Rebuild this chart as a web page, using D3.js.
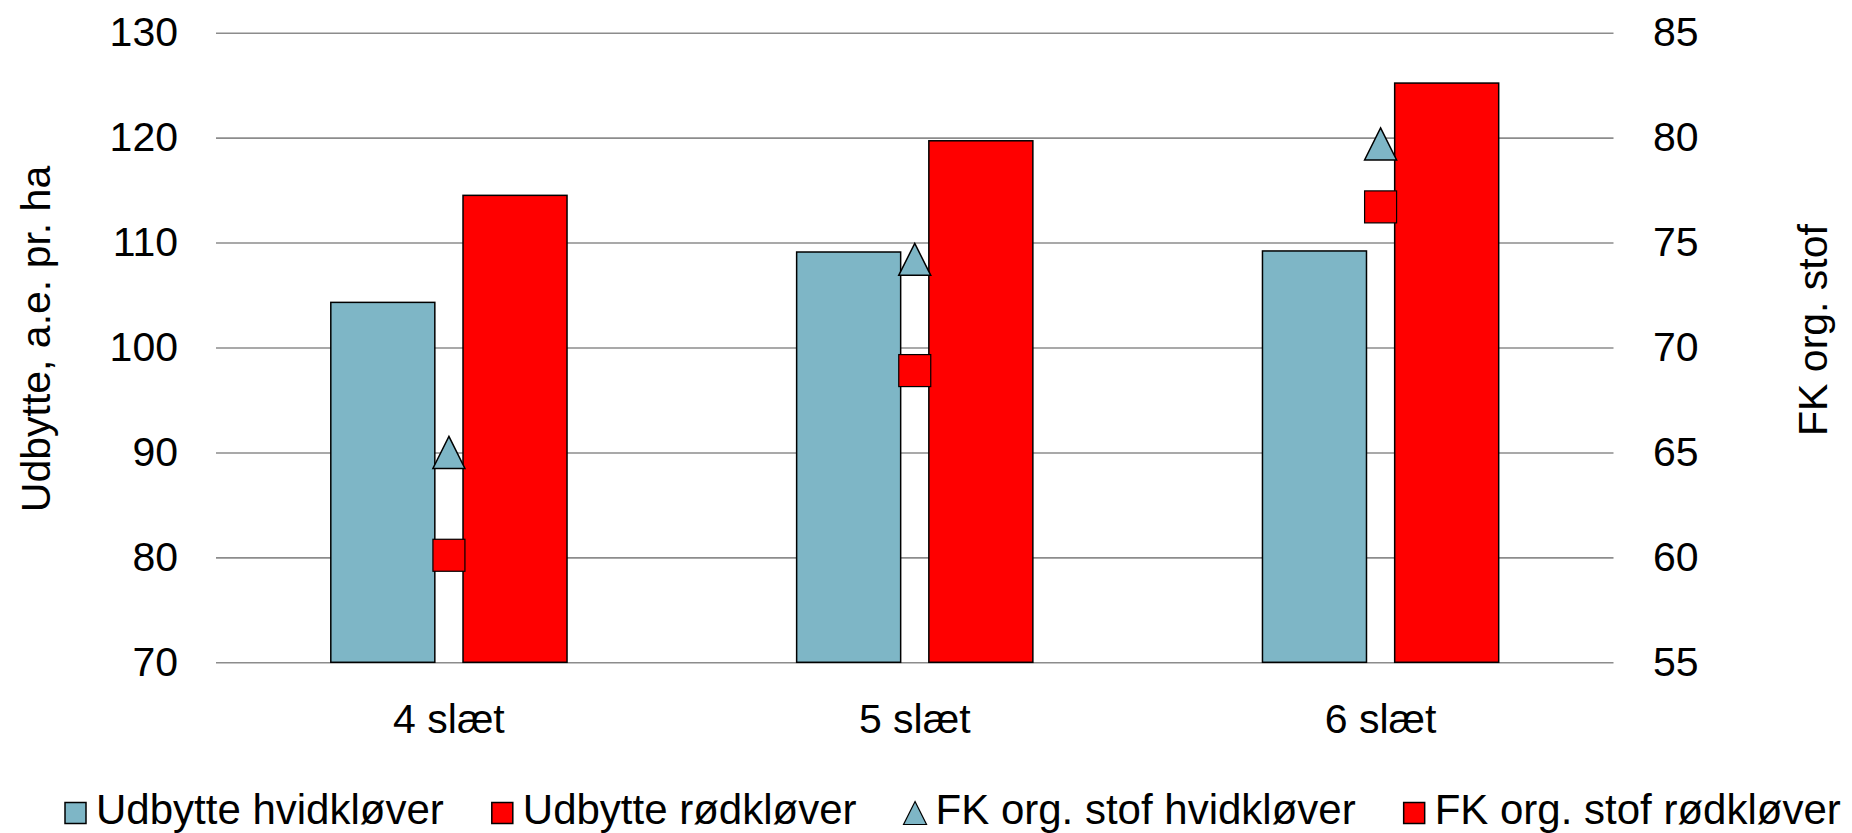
<!DOCTYPE html>
<html>
<head>
<meta charset="utf-8">
<script src="https://cdn.jsdelivr.net/npm/d3@7"></script>
<style>
  html, body { margin: 0; padding: 0; background: #fff; }
  svg { display: block; }
  text { font-family: "Liberation Sans", Arial, sans-serif; fill: #000; }
</style>
</head>
<body>
<svg id="chart" width="1852" height="833"></svg>
<script>
// ---- data ----
const categories = ["4 slæt", "5 slæt", "6 slæt"];
const udbytteHvid = [104.3, 109.1, 109.2];
const udbytteRod = [114.5, 119.7, 125.2];
const fkHvid = [65.0, 74.2, 79.7];
const fkRod = [60.1, 68.9, 76.7];
const leftTicks = [70, 80, 90, 100, 110, 120, 130];
const rightTicks = [55, 60, 65, 70, 75, 80, 85];
const seriesNames = ["Udbytte hvidkløver", "Udbytte rødkløver", "FK org. stof hvidkløver", "FK org. stof rødkløver"];
const leftTitle = "Udbytte, a.e. pr. ha";
const rightTitle = "FK org. stof";

// ---- layout ----
const W = 1852, H = 833;
const plotL = 216, plotR = 1613.5, plotT = 32.7, plotB = 662.3;
const fontSize = 41;
const legFont = 42;
const blue = "#7EB6C6", red = "#FF0000", grid = "#8C8C8C";

const svg = d3.select("#chart");

const x = d3.scaleBand().domain(categories).range([plotL, plotR]).padding(0);
const yL = d3.scaleLinear().domain([70, 130]).range([plotB, plotT]);
const yR = d3.scaleLinear().domain([55, 85]).range([plotB, plotT]);

const bw = x.bandwidth() * 0.2233;
const gap = x.bandwidth() * 0.0605;
const cx = c => x(c) + x.bandwidth() / 2;

// left axis with gridlines
const gL = svg.append("g").attr("transform", `translate(${plotL},0)`)
  .call(d3.axisLeft(yL).tickValues(leftTicks).tickSize(-(plotR - plotL)).tickPadding(38).tickFormat(d3.format("d")));
gL.select(".domain").remove();
gL.selectAll(".tick line").attr("stroke", grid).attr("stroke-width", 1.6);
gL.selectAll(".tick text").attr("font-size", fontSize).attr("font-family", "Liberation Sans, Arial, sans-serif").attr("fill", "#000");

// right axis
const gR = svg.append("g").attr("transform", `translate(${plotR},0)`)
  .call(d3.axisRight(yR).tickValues(rightTicks).tickSize(0).tickPadding(39.5).tickFormat(d3.format("d")));
gR.select(".domain").remove();
gR.selectAll(".tick text").attr("font-size", fontSize).attr("font-family", "Liberation Sans, Arial, sans-serif").attr("fill", "#000");

// bottom axis
const gB = svg.append("g").attr("transform", `translate(0,${plotB})`)
  .call(d3.axisBottom(x).tickSize(0).tickPadding(42));
gB.select(".domain").remove();
gB.selectAll(".tick text").attr("font-size", fontSize).attr("font-family", "Liberation Sans, Arial, sans-serif").attr("fill", "#000");

// bars
svg.append("g").selectAll("rect").data(categories).join("rect")
  .attr("x", c => cx(c) - gap / 2 - bw)
  .attr("y", (c, i) => yL(udbytteHvid[i]))
  .attr("width", bw)
  .attr("height", (c, i) => yL(70) - yL(udbytteHvid[i]))
  .attr("fill", blue).attr("stroke", "#000").attr("stroke-width", 1.5);

svg.append("g").selectAll("rect").data(categories).join("rect")
  .attr("x", c => cx(c) + gap / 2)
  .attr("y", (c, i) => yL(udbytteRod[i]))
  .attr("width", bw)
  .attr("height", (c, i) => yL(70) - yL(udbytteRod[i]))
  .attr("fill", red).attr("stroke", "#000").attr("stroke-width", 1.5);

// markers
const ms = 32;
const tri = s => `M0,${-s / 2}L${s / 2},${s / 2}L${-s / 2},${s / 2}Z`;
svg.append("g").selectAll("path").data(categories).join("path")
  .attr("transform", (c, i) => `translate(${cx(c)},${yR(fkHvid[i])})`)
  .attr("d", tri(ms))
  .attr("fill", blue).attr("stroke", "#000").attr("stroke-width", 1.5).attr("stroke-linejoin", "miter");

svg.append("g").selectAll("rect").data(categories).join("rect")
  .attr("x", c => cx(c) - ms / 2)
  .attr("y", (c, i) => yR(fkRod[i]) - ms / 2)
  .attr("width", ms).attr("height", ms)
  .attr("fill", red).attr("stroke", "#000").attr("stroke-width", 1.2);

// axis titles
svg.append("text")
  .attr("transform", `translate(${35 + fontSize * 0.36},339) rotate(-90)`)
  .attr("text-anchor", "middle").attr("font-size", fontSize).text(leftTitle);
svg.append("text")
  .attr("transform", `translate(${1812 + fontSize * 0.36},330) rotate(-90)`)
  .attr("text-anchor", "middle").attr("font-size", fontSize).text(rightTitle);

// legend
const legY = 813;
const legSize = 21;
const legend = svg.append("g");
let lx = 65;
seriesNames.forEach((name, i) => {
  const g = legend.append("g");
  if (i === 2) {
    g.append("path")
      .attr("transform", `translate(${lx + legSize / 2},${legY})`)
      .attr("d", tri(legSize + 2))
      .attr("fill", blue).attr("stroke", "#000").attr("stroke-width", 1.2);
  } else {
    g.append("rect")
      .attr("x", lx).attr("y", legY - legSize / 2)
      .attr("width", legSize).attr("height", legSize)
      .attr("fill", i === 0 ? blue : red).attr("stroke", "#000").attr("stroke-width", 1.5);
  }
  const t = g.append("text")
    .attr("x", lx + legSize + 10).attr("y", 823.5)
    .attr("font-size", legFont).text(name);
  lx = lx + legSize + 10 + t.node().getComputedTextLength() + 48;
});
</script>
</body>
</html>
